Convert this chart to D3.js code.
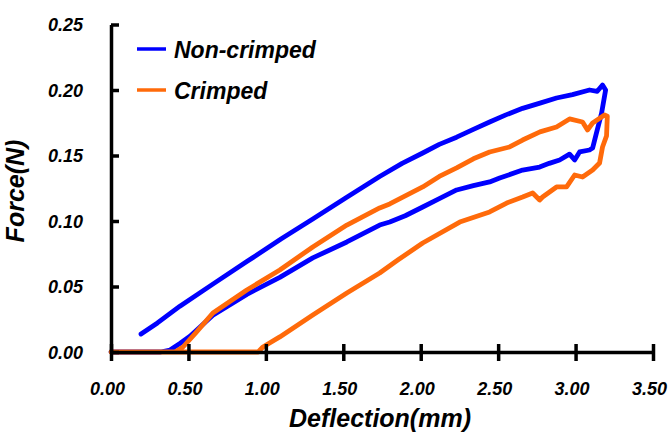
<!DOCTYPE html>
<html><head><meta charset="utf-8">
<script src="https://cdn.jsdelivr.net/npm/d3@7"></script>
<style>
body{margin:0;background:#fff}
svg{display:block}
text{font-family:"Liberation Sans",Arial,sans-serif;font-weight:bold;font-style:italic;fill:#000}
</style>
</head><body>
<svg id="chart" width="669" height="436"></svg>
<script>
// ---- data ----
const xTicks = [0, 0.5, 1.0, 1.5, 2.0, 2.5, 3.0, 3.5];
const yTicks = [0, 0.05, 0.10, 0.15, 0.20, 0.25];
const seriesNames = ["Non-crimped", "Crimped"];
const seriesColors = ["#0000ff", "#ff6a0a"];

// Non-crimped: loading then unloading
const nonCrimpedX = [0.194,0.30,0.445,0.66,0.877,1.10,1.303,1.52,1.735,1.88,2.013,2.12,2.232,2.34,2.445,2.55,2.658,2.77,2.877,2.98,3.09,3.14,3.174,3.194,
  3.168,3.135,3.110,3.090,3.026,2.994,2.961,2.897,2.83,2.768,2.658,2.510,2.445,2.34,2.232,2.12,2.013,1.90,1.800,1.735,1.523,1.303,1.090,0.877,0.658,0.51,0.445,0.381,0.32,0.0];
const nonCrimpedF = [0.0137,0.0222,0.0350,0.0520,0.0690,0.0865,0.1015,0.1180,0.1340,0.1440,0.1519,0.1585,0.1640,0.1700,0.1756,0.1810,0.1860,0.1900,0.1939,0.1965,0.2000,0.1990,0.2038,0.2000,
  0.1824,0.1672,0.1557,0.1542,0.1527,0.1466,0.1510,0.1466,0.1440,0.1412,0.1389,0.1328,0.1298,0.1270,0.1237,0.1170,0.1107,0.1040,0.0992,0.0969,0.0840,0.0718,0.0570,0.0440,0.0280,0.0120,0.0065,0.0015,0.0,0.0];

// Crimped: loading then unloading
const crimpedX = [0,0.413,0.465,0.55,0.658,0.877,1.090,1.303,1.523,1.735,1.800,2.013,2.12,2.232,2.34,2.445,2.574,2.658,2.77,2.877,2.961,3.045,3.077,3.110,3.187,3.205,
  3.2,3.174,3.155,3.110,3.045,2.994,2.942,2.877,2.787,2.768,2.723,2.658,2.555,2.445,2.252,2.013,1.852,1.735,1.523,1.303,1.090,0.981,0.95,0.0];
const crimpedF = [0,0,0.0038,0.0150,0.0298,0.0473,0.0626,0.0802,0.0969,0.1100,0.1130,0.1260,0.1340,0.1405,0.1475,0.1527,0.1565,0.1618,0.1680,0.1718,0.1779,0.1756,0.1695,0.1748,0.1809,0.1800,
  0.1650,0.1565,0.1443,0.1389,0.1336,0.1351,0.1260,0.1260,0.1183,0.1160,0.1214,0.1183,0.1137,0.1069,0.0992,0.0832,0.0702,0.0603,0.0450,0.0282,0.0115,0.0038,0,0];

// ---- chart ----
const svg = d3.select("#chart");
const x = d3.scaleLinear().domain([0, 3.5]).range([111, 653]);
const y = d3.scaleLinear().domain([0, 0.25]).range([352, 24.5]);
const fmt = d3.format(".2f");

const line = d3.line().x(d => x(d[0])).y(d => y(d[1])).curve(d3.curveLinear);
const series = [
  d3.zip(nonCrimpedX, nonCrimpedF),
  d3.zip(crimpedX, crimpedF)
];
series.forEach((s, i) => {
  svg.append("path").datum(s).attr("d", line)
    .attr("fill", "none").attr("stroke", seriesColors[i])
    .attr("stroke-width", 4.8).attr("stroke-linejoin", "round").attr("stroke-linecap", "round");
});

// x axis
const gx = svg.append("g").attr("transform", `translate(0,${y(0)})`)
  .call(d3.axisBottom(x).tickValues(xTicks).tickFormat(fmt).tickSizeOuter(0).tickSizeInner(9));
gx.select(".domain").attr("stroke", "#000").attr("stroke-width", 3.5);
gx.selectAll(".tick line").attr("y1", -8).attr("stroke", "#000").attr("stroke-width", 3.5);
gx.selectAll(".tick text").attr("y", 43).attr("x", -4).attr("dy", null).attr("font-size", 18)
  .style("font-family", '"Liberation Sans",Arial,sans-serif');

// y axis
const gy = svg.append("g").attr("transform", `translate(${x(0)},0)`)
  .call(d3.axisLeft(y).tickValues(yTicks).tickFormat(fmt).tickSizeOuter(0).tickSizeInner(-8).tickPadding(28));
gy.select(".domain").attr("stroke", "#000").attr("stroke-width", 3.5);
gy.selectAll(".tick line").attr("stroke", "#000").attr("stroke-width", 3.5);
gy.selectAll(".tick text").attr("dy", "0.36em").attr("font-size", 18)
  .style("font-family", '"Liberation Sans",Arial,sans-serif');

// axis titles
svg.append("text").attr("x", 380).attr("y", 427).attr("text-anchor", "middle")
  .attr("font-size", 25).text("Deflection(mm)");
svg.append("text").attr("transform", "translate(24,191) rotate(-90)").attr("text-anchor", "middle")
  .attr("font-size", 25).text("Force(N)");

// legend
const leg = svg.append("g");
seriesNames.forEach((n, i) => {
  const ly = 49 + i * 41;
  leg.append("line").attr("x1", 137).attr("x2", 166).attr("y1", ly).attr("y2", ly)
    .attr("stroke", seriesColors[i]).attr("stroke-width", 3.5);
  leg.append("text").attr("x", 174).attr("y", ly + 9).attr("font-size", 23).text(n);
});
</script>
</body></html>
